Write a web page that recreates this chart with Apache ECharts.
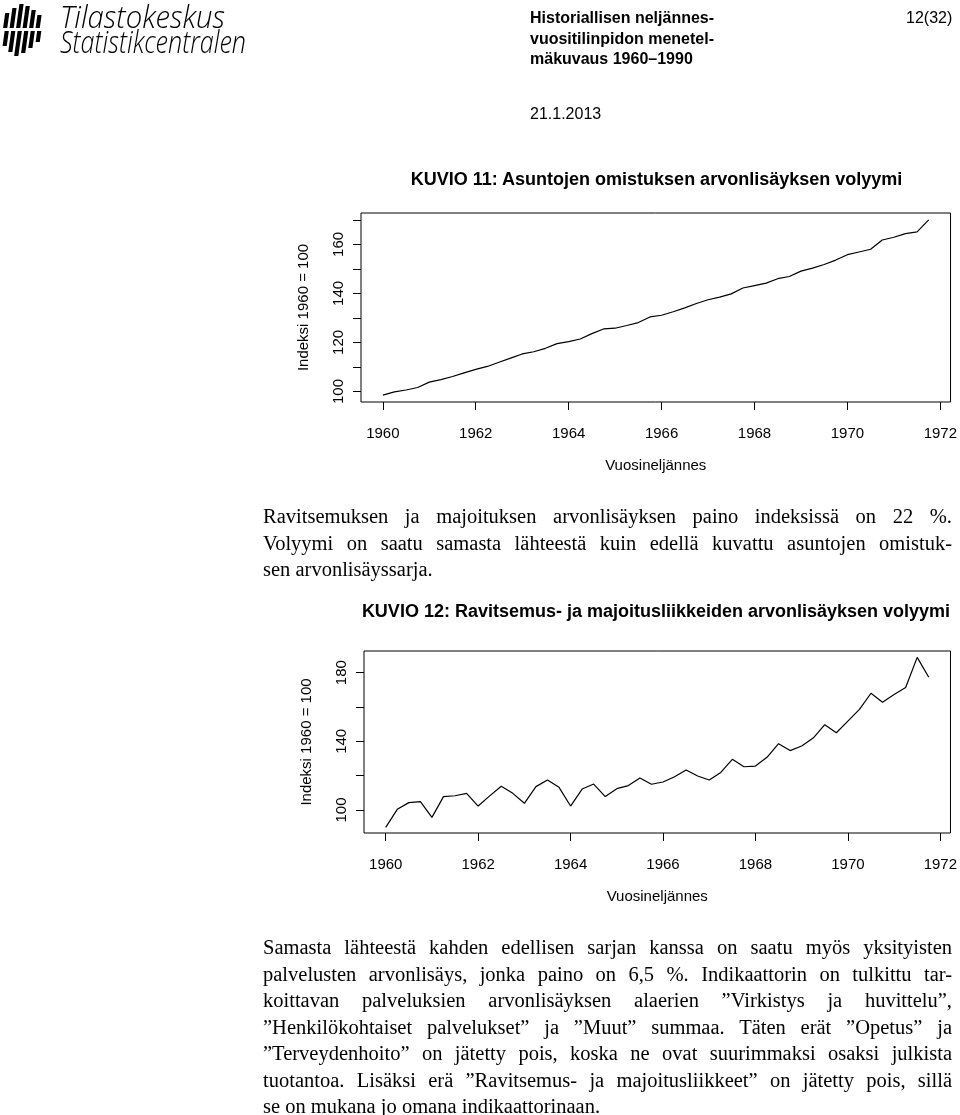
<!DOCTYPE html>
<html>
<head>
<meta charset="utf-8">
<script src="https://cdn.jsdelivr.net/npm/echarts@6/dist/echarts.min.js"></script>
<style>
  body { margin: 0; width: 960px; height: 1115px; position: relative; background: #fff; overflow: hidden; }
  #chart { position: absolute; left: 0; top: 0; width: 960px; height: 1115px; }
  .t { position: absolute; white-space: nowrap; color: #000; }
  .sans { font-family: 'Liberation Sans', Arial, sans-serif; }
  .hdr { font-weight: bold; font-size: 16px; line-height: 20.5px; }
  .title { position: absolute; text-align: center; font-family: 'Liberation Sans', Arial, sans-serif; font-weight: bold; font-size: 18px; color: #000; }
  .para { position: absolute; left: 263px; width: 689px; font-family: 'Liberation Serif', 'Times New Roman', serif; font-size: 20.5px; line-height: 26.5px; color: #000; }
  .para div { white-space: nowrap; }
  .para .j { text-align: justify; text-align-last: justify; }
</style>
</head>
<body>
<div id="chart"></div>

<!-- logo -->
<svg class="t" style="left:0;top:0" width="260" height="62">
  <g fill="#000" transform="skewX(-8)">
    <rect x="7" y="13" width="4.2" height="15"/>
    <rect x="13.5" y="8" width="4.2" height="20"/>
    <rect x="20" y="4" width="4.2" height="24"/>
    <rect x="26.5" y="6" width="4.2" height="22"/>
    <rect x="33" y="10" width="4.2" height="18"/>
    <rect x="39.5" y="15" width="4.2" height="13"/>
    <rect x="9" y="31" width="4.2" height="15"/>
    <rect x="15.5" y="31" width="4.2" height="21"/>
    <rect x="22" y="31" width="4.2" height="25"/>
    <rect x="28.5" y="31" width="4.2" height="22"/>
    <rect x="35" y="31" width="4.2" height="17"/>
    <rect x="41.5" y="31" width="4.2" height="11"/>
  </g>
  <text x="60" y="28" font-family="'Open Sans', sans-serif" font-style="italic" font-weight="300" font-size="31" textLength="165" lengthAdjust="spacingAndGlyphs">Tilastokeskus</text>
  <text x="60" y="53" font-family="'Open Sans', sans-serif" font-style="italic" font-weight="300" font-size="31" textLength="186" lengthAdjust="spacingAndGlyphs">Statistikcentralen</text>
</svg>

<div class="t sans hdr" style="left:530px;top:8px">Historiallisen neljännes-<br>vuositilinpidon menetel-<br>mäkuvaus 1960–1990</div>
<div class="t sans" style="left:906px;top:9px;font-size:16px">12(32)</div>
<div class="t sans" style="left:530px;top:105px;font-size:16px">21.1.2013</div>

<div class="title" style="left:361px;width:591px;top:169px">KUVIO 11: Asuntojen omistuksen arvonlisäyksen volyymi</div>

<div class="para" style="top:503px">
  <div class="j">Ravitsemuksen ja majoituksen arvonlisäyksen paino indeksissä on 22 %.</div>
  <div class="j">Volyymi on saatu samasta lähteestä kuin edellä kuvattu asuntojen omistuk-</div>
  <div>sen arvonlisäyssarja.</div>
</div>

<div class="title" style="left:356px;width:600px;top:601px">KUVIO 12: Ravitsemus- ja majoitusliikkeiden arvonlisäyksen volyymi</div>

<div class="para" style="top:934px">
  <div class="j">Samasta lähteestä kahden edellisen sarjan kanssa on saatu myös yksityisten</div>
  <div class="j">palvelusten arvonlisäys, jonka paino on 6,5 %. Indikaattorin on tulkittu tar-</div>
  <div class="j">koittavan palveluksien arvonlisäyksen alaerien ”Virkistys ja huvittelu”,</div>
  <div class="j">”Henkilökohtaiset palvelukset” ja ”Muut” summaa. Täten erät ”Opetus” ja</div>
  <div class="j">”Terveydenhoito” on jätetty pois, koska ne ovat suurimmaksi osaksi julkista</div>
  <div class="j">tuotantoa. Lisäksi erä ”Ravitsemus- ja majoitusliikkeet” on jätetty pois, sillä</div>
  <div>se on mukana jo omana indikaattorinaan.</div>
</div>

<script>
// vuosineljännekset 1960Q1 - 1971Q4
const quarters = [
  '1960Q1', '1960Q2', '1960Q3', '1960Q4',
  '1961Q1', '1961Q2', '1961Q3', '1961Q4',
  '1962Q1', '1962Q2', '1962Q3', '1962Q4',
  '1963Q1', '1963Q2', '1963Q3', '1963Q4',
  '1964Q1', '1964Q2', '1964Q3', '1964Q4',
  '1965Q1', '1965Q2', '1965Q3', '1965Q4',
  '1966Q1', '1966Q2', '1966Q3', '1966Q4',
  '1967Q1', '1967Q2', '1967Q3', '1967Q4',
  '1968Q1', '1968Q2', '1968Q3', '1968Q4',
  '1969Q1', '1969Q2', '1969Q3', '1969Q4',
  '1970Q1', '1970Q2', '1970Q3', '1970Q4',
  '1971Q1', '1971Q2', '1971Q3', '1971Q4'
]

// KUVIO 11: asuntojen omistuksen arvonlisäyksen volyymi
const asuntoVolyymi = [
  98.5, 99.8, 100.6, 101.6, 103.8, 104.8, 106.1, 107.6,
  109.0, 110.2, 111.9, 113.6, 115.3, 116.2, 117.6, 119.5,
  120.3, 121.4, 123.6, 125.5, 125.8, 126.9, 128.1, 130.4,
  131.1, 132.5, 134.1, 135.9, 137.4, 138.5, 139.8, 142.2,
  143.2, 144.2, 146.0, 146.9, 149.1, 150.3, 151.8, 153.6,
  155.8, 156.9, 158.0, 161.8, 162.9, 164.4, 165.1, 170.0
]

// KUVIO 12: ravitsemus- ja majoitusliikkeiden arvonlisäyksen volyymi
const ravitsemusVolyymi = [
  89.9, 100.4, 104.3, 104.9, 95.7, 107.8, 108.3, 109.7,
  102.3, 108.2, 113.8, 109.7, 103.9, 113.6, 117.5, 113.2,
  102.3, 112.2, 115.1, 107.8, 112.4, 114.2, 118.6, 115.0,
  116.3, 119.4, 123.3, 119.8, 117.5, 121.9, 129.5, 125.2,
  125.6, 130.7, 138.6, 134.6, 137.3, 141.9, 149.7, 145.0,
  151.8, 158.6, 168.0, 162.7, 167.2, 171.3, 188.9, 177.3
]

// akselien jaot
const xTicks = [1960, 1962, 1964, 1966, 1968, 1970, 1972]
const yTicks1 = [100, 110, 120, 130, 140, 150, 160, 170]
const yLabels1 = [100, 120, 140, 160]
const yTicks2 = [100, 120, 140, 160, 180]
const yLabels2 = [100, 140, 180]

const FONT = "'Liberation Sans', Arial, sans-serif"

// '1960Q2' -> 1960.25
const quarterTime = (q) => Number(q.slice(0, 4)) + (Number(q.slice(5)) - 1) / 4

const toPairs = (values) => quarters.map((q, i) => [quarterTime(q), values[i]])

const makeXAxis = (gridIndex) => ({
  type: 'value',
  gridIndex,
  min: 1959.53,
  max: 1972.22,
  axisLine: { show: false },
  splitLine: { show: false },
  axisTick: { show: true, inside: false, length: 8, customValues: xTicks, lineStyle: { color: '#000', width: 1 } },
  axisLabel: { customValues: xTicks, formatter: (v) => String(v), margin: 24, color: '#000', fontSize: 15, fontFamily: FONT },
  name: 'Vuosineljännes',
  nameLocation: 'middle',
  nameGap: 56,
  nameTextStyle: { color: '#000', fontSize: 15, fontFamily: FONT }
})

const makeYAxis = (gridIndex, min, max, ticks, labels) => ({
  type: 'value',
  gridIndex,
  min,
  max,
  axisLine: { show: false },
  splitLine: { show: false },
  axisTick: { show: true, inside: false, length: 8, customValues: ticks, lineStyle: { color: '#000', width: 1 } },
  axisLabel: { customValues: labels, formatter: (v) => String(v), rotate: 90, margin: 15, color: '#000', fontSize: 15, fontFamily: FONT },
  name: 'Indeksi 1960 = 100',
  nameLocation: 'middle',
  nameRotate: 90,
  nameGap: 50,
  nameTextStyle: { color: '#000', fontSize: 15, fontFamily: FONT }
})

const lineSeries = (index, values) => ({
  type: 'line',
  xAxisIndex: index,
  yAxisIndex: index,
  data: toPairs(values),
  symbol: 'none',
  lineStyle: { color: '#000', width: 1.2 },
  silent: true
})

const chart = echarts.init(document.getElementById('chart'), null, { renderer: 'canvas' })

chart.setOption({
  animation: false,
  grid: [
    { left: 361, top: 213, width: 591, height: 189, show: true, borderColor: '#000', borderWidth: 1, backgroundColor: 'transparent' },
    { left: 364, top: 651, width: 588, height: 182, show: true, borderColor: '#000', borderWidth: 1, backgroundColor: 'transparent' }
  ],
  xAxis: [makeXAxis(0), makeXAxis(1)],
  yAxis: [
    makeYAxis(0, 95.7, 172.8, yTicks1, yLabels1),
    makeYAxis(1, 86.6, 192.6, yTicks2, yLabels2)
  ],
  series: [
    lineSeries(0, asuntoVolyymi),
    lineSeries(1, ravitsemusVolyymi)
  ]
})
</script>
</body>
</html>
